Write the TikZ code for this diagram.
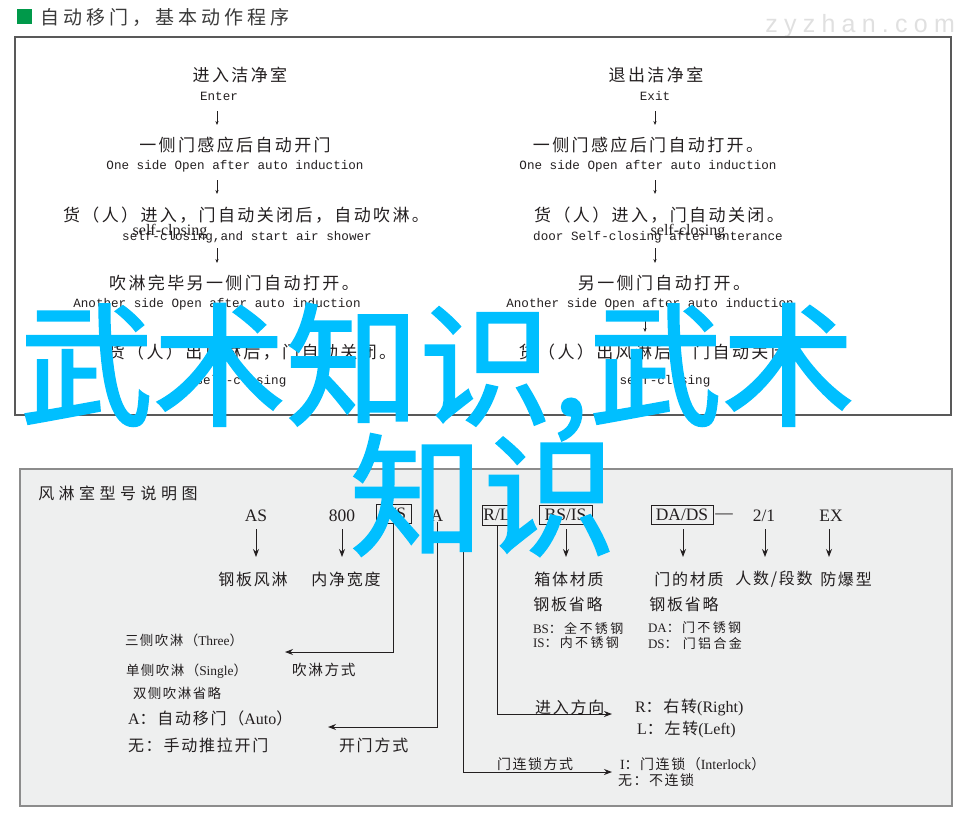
\documentclass[tikz,border=0pt]{standalone}
\usepackage{fontspec}
\usetikzlibrary{arrows.meta}
\setmainfont{Liberation Serif}
\newfontfamily\zhT[LetterSpace=21]{Noto Sans CJK SC}
\newfontfamily\zhA[LetterSpace=14]{Noto Sans CJK SC}
\newfontfamily\zhB[LetterSpace=28]{Noto Sans CJK SC}
\newfontfamily\zhC[LetterSpace=11]{Noto Sans CJK SC}
\newfontfamily\zhS[LetterSpace=18]{Noto Sans CJK SC}
\newfontfamily\zhW[FakeBold=1.6]{Noto Sans CJK SC}
\newfontfamily\monoF{Liberation Mono}
\newfontfamily\zyF[LetterSpace=25]{Liberation Sans}
\definecolor{ink}{HTML}{231F20}
\definecolor{titleink}{HTML}{3A3A3A}
\definecolor{titlegreen}{HTML}{00994A}
\definecolor{frame}{HTML}{595959}
\definecolor{panel}{HTML}{EEEFEF}
\definecolor{panelframe}{HTML}{8C8C8C}
\definecolor{wm}{RGB}{0,191,255}
\definecolor{wmgray}{HTML}{E0E0E0}
\tikzset{
  txt/.style={inner sep=0pt, outer sep=0pt, text=ink},
  zhline/.style={txt, font=\zhA\fontsize{12.75}{15}\selectfont},
  enline/.style={txt, font=\monoF\fontsize{9.45}{11}\selectfont},
  ovl/.style={txt, font=\fontsize{12}{13}\selectfont},
  code/.style={txt, font=\fontsize{13.1}{15}\selectfont},
  codebox/.style={code, draw=ink, line width=0.7pt},
  lab/.style={txt, font=\zhC\fontsize{12}{14}\selectfont},
  small/.style={txt, font=\fontsize{9.75}{11}\selectfont},
  mid/.style={txt, font=\fontsize{10.1}{12}\selectfont},
  big/.style={txt, font=\fontsize{12}{14}\selectfont},
  arr/.style={draw=ink, line width=0.75pt, -{Stealth[length=6pt,width=4.5pt]}},
  sarr/.style={draw=ink, line width=0.5pt, -{Stealth[length=3pt,width=2.4pt]}},
  wmtext/.style={inner sep=0pt, outer sep=0pt, text=wm, font=\zhW\fontsize{99.75}{100}\selectfont},
}
\begin{document}
\begin{tikzpicture}[x=0.75pt, y=-0.75pt]
\useasboundingbox (0,0) rectangle (971,822);
% faint site mark
\node[anchor=base west, inner sep=0pt, text=wmgray, font=\zyF\fontsize{18.75}{20}\selectfont] (zy) at (765,32) {zyzhan.com};
% title
\fill[titlegreen] (17,9) rectangle (32,24);
\node[anchor=west, inner sep=0pt, text=titleink, font=\zhT\fontsize{14.25}{16}\selectfont] (title) at (40,17) {自动移门，基本动作程序};
% top frame
\draw[frame, line width=1pt] (15,37) rectangle (951,415);
% left column
\node[zhline] (L1) at (240,75) {进入洁净室};
\node[enline] (L1e) at (219,96) {Enter};
\node[zhline] (L2) at (235,145) {一侧门感应后自动开门};
\node[enline] (L2e) at (235,166) {One side Open after auto induction};
\node[zhline] (L3) at (246,215) {货（人）进入，门自动关闭后，自动吹淋。};
\node[enline] (L3e) at (247,237) {self-closing,and start air shower};
\node[ovl] (L3o) at (170,232) {self-clpsing};
\node[zhline] (L4) at (234,283) {吹淋完毕另一侧门自动打开。};
\node[enline] (L4e) at (217,304) {Another side Open after auto induction};
\node[zhline] (L5) at (252,352) {货（人）出风淋后，门自动关闭。};
\node[enline] (L5e) at (241,381) {self-closing};
% right column
\node[zhline] (R1) at (656,75) {退出洁净室};
\node[enline] (R1e) at (655,96) {Exit};
\node[zhline] (R2) at (648,145) {一侧门感应后门自动打开。};
\node[enline] (R2e) at (648,166) {One side Open after auto induction};
\node[zhline] (R3) at (659,215) {货（人）进入，门自动关闭。};
\node[enline] (R3e) at (658,237) {door Self-closing after enterance};
\node[ovl] (R3o) at (688,232) {self-closing};
\node[zhline] (R4) at (664,283) {另一侧门自动打开。};
\node[enline] (R4e) at (650,304) {Another side Open after auto induction};
\node[zhline] (R5) at (663,352) {货（人）出风淋后，门自动关闭。};
\node[enline] (R5e) at (665,381) {self-closing};
% small arrows
\foreach \i/\xx/\ya/\yb in {1/217/111/125, 2/217/180/194, 3/217/248/263, 4/217/318/332,
                             5/655/111/125, 6/655/180/194, 7/655/248/263, 8/645/318/332}{
  \coordinate (sa\i) at (\xx,\ya);
  \coordinate (sb\i) at (\xx,\yb);
  \draw[sarr] (sa\i) -- (sb\i);
}
% bottom panel
\draw[panelframe, fill=panel, line width=1.1pt] (20,469) rectangle (952,806);
\node[anchor=west, inner sep=0pt, text=ink, font=\zhB\fontsize{12}{14}\selectfont] (ptitle) at (38,493) {风淋室型号说明图};
% codes
\node[code] (AS) at (256,516) {AS};
\node[code] (S800) at (342,516) {800};
\node[codebox, minimum width=26.25pt, minimum height=14.25pt] (TS) at (393.5,514) {T/S};
\node[code] (A) at (437,516) {A};
\node[codebox, minimum width=22.5pt, minimum height=15pt] (RL) at (497,515) {R/L};
\node[codebox, minimum width=39.75pt, minimum height=14.25pt] (BSIS) at (565.5,515) {BS/IS};
\node[codebox, minimum width=46.5pt, minimum height=14.25pt] (DADS) at (682,515) {DA/DS};
\node[code] (dash) at (724,516) {—};
\node[code] (N21) at (764,516) {2/1};
\node[code] (EX) at (831,516) {EX};
% label row
\node[lab] (gbfl) at (253,579) {钢板风淋};
\node[lab] (njkd) at (346,579) {内净宽度};
\node[lab] (xtcz) at (569,579) {箱体材质};
\node[lab] (mdcz) at (689,579) {门的材质};
\node[lab] (rsds) at (774,579) {人数/段数};
\node[lab] (fbx) at (846,579) {防爆型};
\node[lab] (gbsl1) at (568,604) {钢板省略};
\node[lab] (gbsl2) at (684,604) {钢板省略};
% vertical arrows
\coordinate (rowtop) at (0,529);
\coordinate (rowbot) at (0,557);
\draw[arr] (AS |- rowtop) -- (AS |- rowbot);
\draw[arr] (S800 |- rowtop) -- (S800 |- rowbot);
\coordinate (bsx) at (566,0);
\draw[arr] (bsx |- rowtop) -- (bsx |- rowbot);
\coordinate (dax) at (683,0);
\draw[arr] (dax |- rowtop) -- (dax |- rowbot);
\coordinate (n2x) at (765,0);
\draw[arr] (n2x |- rowtop) -- (n2x |- rowbot);
\coordinate (exx) at (829,0);
\draw[arr] (exx |- rowtop) -- (exx |- rowbot);
% material notes
\node[small, anchor=west] (BSn) at (533,628) {BS{\zhS ：全不锈钢}};
\node[small, anchor=west] (DAn) at (648,628) {DA{\zhS ：门不锈钢}};
\node[small, anchor=west] (ISn) at (533,643) {IS{\zhS ：内不锈钢}};
\node[small, anchor=west] (DSn) at (648,643) {DS{\zhS ： 门铝合金}};
% left lower texts
\node[mid, anchor=west] (three) at (125,640) {{\zhC 三侧吹淋（}Three{\zhC ）}};
\node[mid, anchor=west] (single) at (126,671) {{\zhC 单侧吹淋（}Single{\zhC ）}};
\node[txt, anchor=west, font=\zhC\fontsize{11}{13}\selectfont] (clfs) at (292,670) {吹淋方式};
\node[mid, anchor=west] (double) at (133,693) {{\zhC 双侧吹淋省略}};
\node[big, anchor=west] (auto) at (128,718) {A{\zhC ：自动移门（}Auto{\zhC ）}};
\node[big, anchor=west] (manual) at (128,745) {{\zhC 无：手动推拉开门}};
\node[lab, anchor=west] (kmfs) at (339,745) {开门方式};
% right lower texts
\node[lab, anchor=west] (jrfx) at (535,707) {进入方向};
\node[big, anchor=west] (right) at (635,707) {R{\zhC ：右转}(Right)};
\node[big, anchor=west] (left) at (637,729) {L{\zhC ：左转}(Left)};
\node[txt, anchor=west, font=\zhC\fontsize{10.5}{12}\selectfont] (mlsfs) at (497,764) {门连锁方式};
\node[txt, anchor=west, font=\fontsize{10.5}{12}\selectfont] (inter) at (620,764) {I{\zhC ：门连锁（}Interlock{\zhC ）}};
\node[txt, anchor=west, font=\zhC\fontsize{10.5}{12}\selectfont] (nolock) at (618,780) {无：不连锁};
% routed connectors
\coordinate (t1) at (285,652);
\draw[arr] (TS.south) |- (t1);
\coordinate (t2) at (328,727);
\draw[arr] (A.south) |- (t2);
\coordinate (ilt) at (463,525);
\coordinate (t3) at (612,772);
\draw[arr] (ilt) |- (t3);
\coordinate (t4) at (612,714);
\draw[arr] (RL.south) |- (t4);
% watermark
\node[wmtext, anchor=west] (wm1) at (20,372) {武术知识,武术};
\node[wmtext, anchor=west] (wm2) at (350,495) {知识};
\end{tikzpicture}
\end{document}
